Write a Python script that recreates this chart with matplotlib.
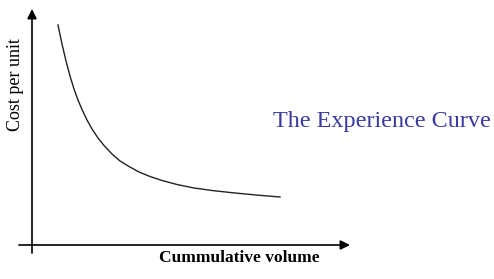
import matplotlib
matplotlib.use("Agg")
import matplotlib.pyplot as plt

# Curve data (arbitrary units: cumulative volume vs cost per unit)
volume = [26, 30, 34, 38, 42, 46, 50, 55, 60, 66, 72, 80, 88, 97, 107, 118, 130, 145, 162, 180, 200, 224, 248]
cost = [220, 201, 184, 169, 156, 145, 135.5, 125, 116, 107, 99.5, 91, 84, 78.5, 73, 68.5, 64.5, 60.5, 57, 54.5, 52.3, 50, 48]

x_label = "Cummulative volume"
y_label = "Cost per unit"
title = "The Experience Curve"

fig = plt.figure(figsize=(4.94, 2.79), dpi=100)
ax = fig.add_axes([0, 0, 1, 1])
ax.set_xlim(-32, 462)
ax.set_ylim(-34, 245)
ax.axis("off")

serif = ["Liberation Serif", "DejaVu Serif"]

# axes with arrows
ax.annotate("", xy=(318, 0), xytext=(-13, 0),
            arrowprops=dict(arrowstyle="-|>", color="black", lw=1.2,
                            mutation_scale=14, shrinkA=0, shrinkB=0))
ax.annotate("", xy=(0, 236), xytext=(0, -8),
            arrowprops=dict(arrowstyle="-|>", color="black", lw=1.2,
                            mutation_scale=14, shrinkA=0, shrinkB=0))

ax.plot(volume, cost, color="#222222", lw=1.0, solid_joinstyle="round")

ax.text(207, -13, x_label, family=serif, fontsize=12.5, fontweight="bold",
        ha="center", va="center")
ax.text(-17, 160, y_label, family=serif, fontsize=13, fontweight="normal",
        rotation=90, ha="center", va="center")
ax.text(241, 123, title, family=serif, fontsize=17.4, color="#3a3aa0",
        ha="left", va="center")

fig.savefig("out.png", dpi=100)
